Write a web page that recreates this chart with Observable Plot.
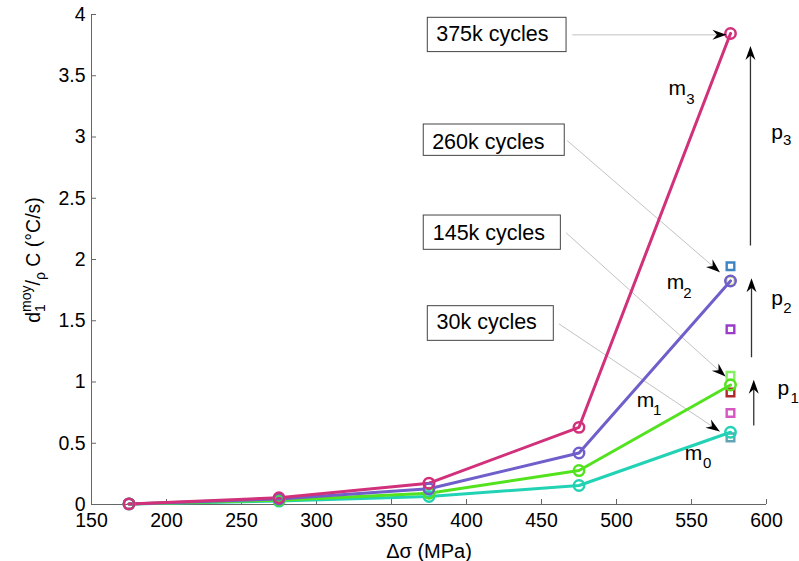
<!DOCTYPE html>
<html><head><meta charset="utf-8">
<script src="https://cdn.jsdelivr.net/npm/d3@7"></script>
<script src="https://cdn.jsdelivr.net/npm/@observablehq/plot@0.6"></script>
<style>body{margin:0;background:#fff} svg{display:block}</style>
</head><body><div id="chart"></div>
<script>
// ---- data ----
const stress = [175, 275, 375, 475, 576];
const m0 = [0.005, 0.028, 0.065, 0.155, 0.59];
const m1 = [0.005, 0.035, 0.092, 0.277, 0.975];
const m2 = [0.005, 0.045, 0.128, 0.42, 1.825];
const m3 = [0.005, 0.055, 0.174, 0.63, 3.845];
const seriesNames = ["m0", "m1", "m2", "m3"];
const seriesColors = ["#22d2b4", "#52e21e", "#6e5fca", "#d1307b"];
const squareX = 576;
const squareValues = [1.945, 1.825, 1.43, 1.05, 0.915, 0.747, 0.548];
const squareColors = ["#3d84c2", "#e2ea92", "#9a3cc8", "#86f064", "#b0282a", "#d457c2", "#62a4b4"];
const xTicks = [150, 200, 250, 300, 350, 400, 450, 500, 550, 600];
const yTicks = [0, 0.5, 1, 1.5, 2, 2.5, 3, 3.5, 4];

// annotation boxes (data coordinates)
const boxLabels = ["375k cycles", "260k cycles", "145k cycles", "30k cycles"];
const boxX1 = [374.2, 371.5, 371.5, 374.2];
const boxX2 = [466.7, 465.5, 462.9, 458.2];
const boxY1 = [3.973, 3.102, 2.359, 1.619];
const boxY2 = [3.693, 2.846, 2.079, 1.336];
const boxTextX = [379.8, 377.1, 377.5, 380.0];
const boxTextY = [3.839, 2.960, 2.217, 1.485];
// leader lines
const leadX1 = [470.5, 467.1, 466.4, 461.6];
const leadY1 = [3.834, 2.971, 2.218, 1.475];
const leadX2 = [573.3, 568.9, 572.7, 568.9];
const leadY2 = [3.834, 1.896, 1.045, 0.596];
// p arrows
const pNames = ["3", "2", "1"];
const pX = [589.3, 590.0, 591.5];
const pY1 = [2.114, 1.202, 0.645];
const pY2 = [3.743, 1.847, 1.018];
// m / p labels
const labelMain = ["m", "m", "m", "m", "p", "p", "p"];
const labelSub = ["3", "2", "1", "0", "3", "2", "1"];
const labelX = [540.5, 539.3, 519.3, 551.3, 607.1, 607.1, 611.3];
const labelY = [3.396, 1.815, 0.849, 0.416, 3.039, 1.682, 0.947];
const subX = [549.3, 547.3, 527.1, 560.5, 613.8, 614.0, 618.7];
const subY = [3.306, 1.722, 0.767, 0.335, 2.971, 1.600, 0.865];

// ---- layout ----
const W = 799, H = 561, mL = 91, mR = 33, mT = 14, mB = 57;
const xDom = [150, 600], yDom = [0, 4];
const kx = (W - mL - mR) / (xDom[1] - xDom[0]);
const ky = (H - mT - mB) / (yDom[1] - yDom[0]);
const font = "'Liberation Sans', Arial, Helvetica, sans-serif";

const points = [];
[m0, m1, m2, m3].forEach((s, i) => s.forEach((v, j) => points.push({x: stress[j], y: v, series: seriesNames[i], color: seriesColors[i]})));
const squares = squareValues.map((v, i) => ({x: squareX, y: v, color: squareColors[i]}));
const boxes = boxLabels.map((t, i) => ({t, x1: boxX1[i], x2: boxX2[i], y1: boxY1[i], y2: boxY2[i], tx: boxTextX[i], ty: boxTextY[i]}));
const leads = leadX1.map((_, i) => ({x1: leadX1[i], y1: leadY1[i], x2: leadX2[i], y2: leadY2[i],
  angle: Math.atan2(-(leadY2[i] - leadY1[i]) * ky, (leadX2[i] - leadX1[i]) * kx) * 180 / Math.PI}));
const parrows = pX.map((x, i) => ({x, y1: pY1[i], y2: pY2[i], angle: -90}));
const labels = labelMain.map((t, i) => ({t, s: labelSub[i], x: labelX[i], y: labelY[i], sx: subX[i], sy: subY[i]}));

const arrowHead = {draw(ctx) { ctx.moveTo(0, 0); ctx.lineTo(-14, -5); ctx.lineTo(-9.5, 0); ctx.lineTo(-14, 5); ctx.closePath(); }};

const plot = Plot.plot({
  width: W, height: H,
  marginLeft: mL, marginRight: mR, marginTop: mT, marginBottom: mB,
  style: {fontFamily: font, background: "#fff"},
  x: {domain: xDom},
  y: {domain: yDom},
  marks: [
    // axes lines
    Plot.ruleY([0], {x1: xDom[0], x2: xDom[1], stroke: "#666", strokeWidth: 1}),
    Plot.ruleX([xDom[0]], {y1: yDom[0], y2: yDom[1], stroke: "#666", strokeWidth: 1}),
    // inward ticks
    Plot.ruleX(xTicks, {x: d => d, y1: 0, y2: 5 / ky, stroke: "#666"}),
    Plot.ruleY(yTicks, {y: d => d, x1: xDom[0], x2: xDom[0] + 5 / kx, stroke: "#666"}),
    Plot.axisX({ticks: xTicks, tickSize: 0, tickPadding: 9, fontSize: 19.5, label: null, tickFormat: d => String(d), color: "#000"}),
    Plot.axisY({ticks: yTicks, tickSize: 0, tickPadding: 6, fontSize: 19.5, label: null, tickFormat: d => String(d), color: "#000"}),
    // leader lines and boxes
    Plot.link(leads, {x1: "x1", y1: "y1", x2: "x2", y2: "y2", stroke: "#bbb", strokeWidth: 0.9}),
    Plot.rect(boxes, {x1: "x1", x2: "x2", y1: "y1", y2: "y2", fill: "#fff", stroke: "#444", strokeWidth: 1}),
    Plot.text(boxes, {x: "tx", y: "ty", text: "t", textAnchor: "start", fontSize: 21.5, fill: "#000", lineAnchor: "middle"}),
    // squares
    Plot.dot(squares, {x: "x", y: "y", stroke: "color", symbol: "square", r: 4.3, strokeWidth: 2.4, fill: "none"}),
    // series
    Plot.line(points, {x: "x", y: "y", z: "series", stroke: "color", strokeWidth: 3}),
    Plot.dot(points, {x: "x", y: "y", stroke: "color", r: 5.2, strokeWidth: 2.5, fill: "none"}),
    // arrow heads of leader lines
    Plot.dot(leads, {x: "x2", y: "y2", rotate: "angle", symbol: arrowHead, fill: "#000", stroke: "none"}),
    // p arrows
    Plot.link(parrows, {x1: "x", x2: "x", y1: "y1", y2: d => d.y2 - 8 / ky, stroke: "#333", strokeWidth: 1.3}),
    Plot.dot(parrows, {x: "x", y: "y2", rotate: "angle", symbol: arrowHead, fill: "#000", stroke: "none"}),
    // labels
    Plot.text(labels, {x: "x", y: "y", text: "t", fontSize: 21, fill: "#000"}),
    Plot.text(labels, {x: "sx", y: "sy", text: "s", fontSize: 15, fill: "#000"}),
    // x axis label
    Plot.text(["Δσ (MPa)"], {frameAnchor: "bottom", text: d => d, dy: 47, fontSize: 20, fill: "#000", lineAnchor: "middle"})
  ]
});

// y-axis label with super/subscripts
const svg = d3.select(plot);
const yl = svg.append("text")
  .attr("transform", `translate(39.5,${mT + (H - mT - mB) / 2 + 1}) rotate(-90)`)
  .attr("text-anchor", "middle")
  .attr("font-family", font)
  .attr("font-size", 19.5)
  .attr("fill", "#000");
yl.append("tspan").text("d");
yl.append("tspan").attr("dy", 5).attr("font-size", 14).text("1");
yl.append("tspan").attr("dx", -7.8).attr("dy", -14).attr("font-size", 14).text("moy");
yl.append("tspan").attr("dy", 9).text("/");
yl.append("tspan").attr("dy", 5).attr("font-size", 14).text("ρ");
yl.append("tspan").attr("dy", -5).text(" C (°C/s)");

document.getElementById("chart").appendChild(plot);
</script>
</body></html>
